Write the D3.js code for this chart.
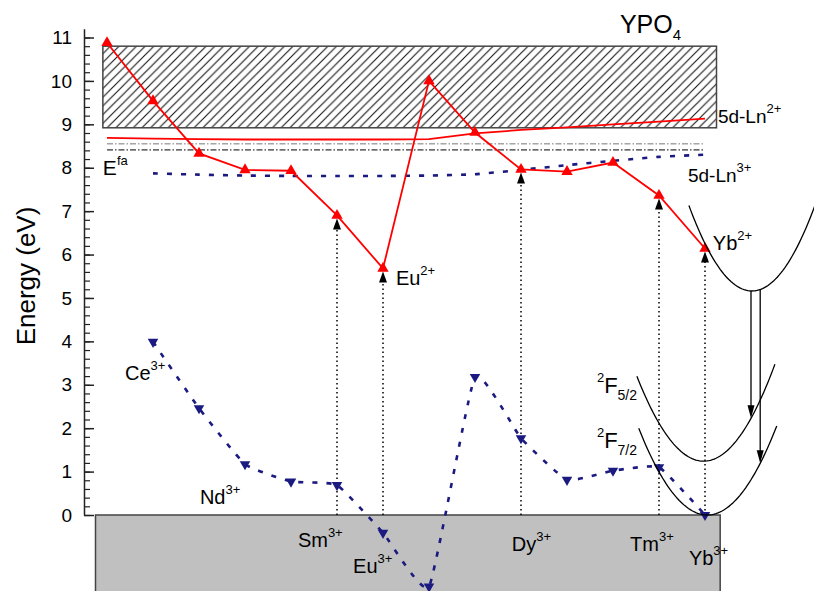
<!DOCTYPE html>
<html lang="en">
<head>
<meta charset="UTF-8">
<title>Lanthanide levels in YPO4</title>
<style>
  body { margin: 0; background: #fff; }
  svg { display: block; font-family: "Liberation Sans", Arial, Helvetica, sans-serif; }
</style>
</head>
<body>
<svg id="chart" width="814" height="591"></svg>
<script src="https://cdn.jsdelivr.net/npm/d3@7/dist/d3.min.js"></script>
<script>

// lanthanide series, La .. Yb
const ions = ["La", "Ce", "Pr", "Nd", "Pm", "Sm", "Eu", "Gd", "Tb", "Dy", "Ho", "Er", "Tm", "Yb"];
// 4f ground state of Ln2+ (red, up triangles)
const ground2 = [10.88, 9.54, 8.33, 7.95, 7.93, 6.90, 5.68, 10.00, 8.81, 7.96, 7.91, 8.12, 7.36, 6.14];
// 4f ground state of Ln3+ (blue, down triangles)
const ground3 = [null, 3.99, 2.46, 1.17, 0.77, 0.69, -0.41, -1.65, 3.18, 1.77, 0.81, 1.02, 1.10, 0.00];
// lowest 5d levels
const excited2 = [8.69, 8.67, 8.66, 8.65, 8.65, 8.65, 8.65, 8.66, 8.79, 8.87, 8.93, 9.00, 9.06, 9.13];
const excited3 = [null, 7.87, 7.84, 7.82, 7.81, 7.81, 7.81, 7.82, 7.85, 7.95, 8.06, 8.16, 8.25, 8.30];
// ions with a charge transfer arrow (VB -> Ln2+ ground state)
const ctIons = ["Sm", "Eu", "Dy", "Tm", "Yb"];

const conductionBand = [8.92, 10.8];
const valenceTop = 0;
const efaLevels = [8.55, 8.41];
const yTicks = d3.range(0, 12);

// configurational coordinate wells for Yb (x0 in ion index units, e0 in eV)
const wellNames = ["Yb2+ 5d", "2F5/2", "2F7/2"];
const wellX0 = [14.02, 12.97, 13.05];
const wellE0 = [5.16, 1.24, 0.0];
const wellCurv = [1.05, 0.93, 0.9];
const wellFrom = [12.65, 11.52, 11.56];
const wellTo = [15.5, 14.52, 14.57];

let svg = d3.select("#chart");

let x = d3.scaleLinear().domain([0, 13]).range([107, 705]);
let y = d3.scaleLinear().domain([0, 11]).range([515, 37.5]);
let xi = name => x(ions.indexOf(name));

// hatch pattern for the conduction band
let defs = svg.append("defs");
defs.append("pattern")
    .attr("id", "hatch")
    .attr("patternUnits", "userSpaceOnUse")
    .attr("width", 8.7).attr("height", 8.7)
  .append("path")
    .attr("d", "M-1,1 l2,-2 M0,8.7 l8.7,-8.7 M7.7,9.7 l2,-2")
    .attr("stroke", "#111").attr("stroke-width", 1.1);

// valence band
svg.append("rect")
    .attr("x", x(-0.25)).attr("y", y(valenceTop))
    .attr("width", x(13.33) - x(-0.25))
    .attr("height", y(-3) - y(valenceTop))
    .attr("fill", "#c0c0c0")
    .attr("stroke", "#444").attr("stroke-width", 1.5);

// conduction band
svg.append("rect")
    .attr("x", x(-0.09)).attr("y", y(conductionBand[1]))
    .attr("width", x(13.25) - x(-0.09))
    .attr("height", y(conductionBand[0]) - y(conductionBand[1]))
    .attr("fill", "url(#hatch)")
    .attr("stroke", "#444").attr("stroke-width", 1.5);

// E^fa dash-dot lines
svg.selectAll(".efa")
    .data(efaLevels)
    .join("line")
    .attr("x1", x(0)).attr("x2", x(13))
    .attr("y1", d => y(d)).attr("y2", d => y(d))
    .attr("stroke", (d, i) => i == 0 ? "#777" : "#000")
    .attr("stroke-width", 1)
    .attr("stroke-dasharray", "6,2,1.5,2");

// y axis
let axisScale = y.copy().domain([0, 11.2]).range([y(0), y(11.2)]);
svg.append("g")
    .attr("transform", "translate(84,0)")
    .call(d3.axisLeft(axisScale).tickValues(d3.range(0, 11.01, 0.2)).tickSizeInner(-6).tickSizeOuter(0).tickFormat(""))
    .call(g => g.selectAll("line").attr("stroke", "#222").attr("stroke-width", 1.2))
    .call(g => g.select(".domain").attr("stroke", "#222").attr("stroke-width", 1.5));
svg.append("g")
    .attr("transform", "translate(84,0)")
    .call(d3.axisLeft(axisScale).tickValues(yTicks).tickSizeInner(-10).tickSizeOuter(0).tickPadding(12))
    .call(g => g.select(".domain").remove())
    .call(g => g.selectAll("line").attr("stroke", "#222").attr("stroke-width", 1.5))
    .call(g => g.selectAll("text").attr("font-size", 19).attr("font-family", null).attr("fill", "#000"));

svg.append("text")
    .attr("transform", "translate(35,276) rotate(-90)")
    .attr("text-anchor", "middle")
    .attr("font-size", 26)
    .text("Energy (eV)");

// 5d level lines
let smooth = d3.line()
    .defined(d => d[1] != null)
    .x(d => x(d[0])).y(d => y(d[1]))
    .curve(d3.curveCardinal.tension(0.6));
let straight = d3.line()
    .defined(d => d[1] != null)
    .x(d => x(d[0])).y(d => y(d[1]));

svg.append("path")
    .attr("d", straight(excited2.map((v, i) => [i, v])))
    .attr("fill", "none").attr("stroke", "#ff0000").attr("stroke-width", 1.8);

svg.append("path")
    .attr("d", smooth(excited3.map((v, i) => [i, v])))
    .attr("fill", "none").attr("stroke", "#1a1a80").attr("stroke-width", 2.6)
    .attr("stroke-dasharray", "5,9");

// charge transfer arrows (dotted)
function arrowHead(g, px, py, dir, w, h) {
    g.append("path")
        .attr("d", `M${px},${py} L${px - w / 2},${py - dir * h} L${px + w / 2},${py - dir * h} Z`)
        .attr("fill", "#000");
}
ctIons.forEach(n => {
    let px = xi(n);
    let tip = y(ground2[ions.indexOf(n)]) + 3;
    svg.append("line")
        .attr("x1", px).attr("x2", px)
        .attr("y1", y(valenceTop)).attr("y2", tip + 10)
        .attr("stroke", "#000").attr("stroke-width", 1.5)
        .attr("stroke-dasharray", "1.5,3");
    arrowHead(svg, px, tip, -1, 8, 11);
});

// Ln3+ ground states
svg.append("path")
    .attr("d", smooth(ground3.map((v, i) => [i, v])))
    .attr("fill", "none").attr("stroke", "#1a1a80").attr("stroke-width", 2.6)
    .attr("stroke-dasharray", "5,9");

svg.selectAll(".m3")
    .data(ground3.map((v, i) => [i, v]).filter(d => d[1] != null))
    .join("path")
    .attr("d", d3.symbol(d3.symbolTriangle, 48))
    .attr("transform", d => `translate(${x(d[0])},${y(d[1])}) rotate(180)`)
    .attr("fill", "#1a1a80");

// Ln2+ ground states
svg.append("path")
    .attr("d", straight(ground2.map((v, i) => [i, v])))
    .attr("fill", "none").attr("stroke", "#ff0000").attr("stroke-width", 1.8);

svg.selectAll(".m2")
    .data(ground2.map((v, i) => [i, v]))
    .join("path")
    .attr("d", d3.symbol(d3.symbolTriangle, 56))
    .attr("transform", d => `translate(${x(d[0])},${y(d[1])})`)
    .attr("fill", "#ff0000");

// Yb configurational coordinate wells
let wellE = (k, t) => wellE0[k] + wellCurv[k] * (t - wellX0[k]) ** 2;
wellNames.forEach((nm, k) => {
    let pts = d3.range(wellFrom[k], wellTo[k] + 0.001, 0.04).map(t => [t, wellE(k, t)]);
    svg.append("path")
        .attr("d", straight(pts))
        .attr("fill", "none").attr("stroke", "#000").attr("stroke-width", 1.3);
});

// emission arrows from the 5d well
[[14.0, 1], [14.2, 2]].forEach(([t, k]) => {
    let top = y(wellE(0, t)), tip = y(wellE(k, t));
    svg.append("line")
        .attr("x1", x(t)).attr("x2", x(t))
        .attr("y1", top).attr("y2", tip - 10)
        .attr("stroke", "#000").attr("stroke-width", 1.3);
    arrowHead(svg, x(t), tip, 1, 7, 13);
});

// labels
function label(t, e, base, sup, sub, size) {
    let tx = svg.append("text")
        .attr("x", x(t)).attr("y", y(e))
        .attr("font-size", size || 20);
    tx.append("tspan").text(base);
    if (sup) tx.append("tspan").attr("font-size", 13).attr("dy", -10).text(sup);
    if (sub) tx.append("tspan").attr("font-size", 15).attr("dy", 7).text(sub);
    return tx;
}
label(11.15, 11.1, "YPO", null, "4", 25);
label(13.28, 9.03, "5d-Ln", "2+", null, 19);
label(12.63, 7.68, "5d-Ln", "3+", null, 19);
label(-0.09, 7.83, "E", "fa", null, 21);
label(0.39, 3.11, "Ce", "3+");
label(2.02, 0.25, "Nd", "3+");
label(4.15, -0.73, "Sm", "3+");
label(5.35, -1.34, "Eu", "3+");
label(8.8, -0.82, "Dy", "3+");
label(11.37, -0.82, "Tm", "3+");
label(12.65, -1.15, "Yb", "3+");
label(6.28, 5.30, "Eu", "2+");
label(13.17, 6.11, "Yb", "2+");

// 2F term labels
[["5/2", 2.81], ["7/2", 1.54]].forEach(([j, e]) => {
    let tx = svg.append("text")
        .attr("x", x(10.65)).attr("y", y(e))
        .attr("font-size", 22);
    tx.append("tspan").attr("font-size", 13).attr("dy", -11).text("2");
    tx.append("tspan").attr("dy", 11).text("F");
    tx.append("tspan").attr("font-size", 14).attr("dy", 7).text(j);
});

</script>
</body>
</html>
